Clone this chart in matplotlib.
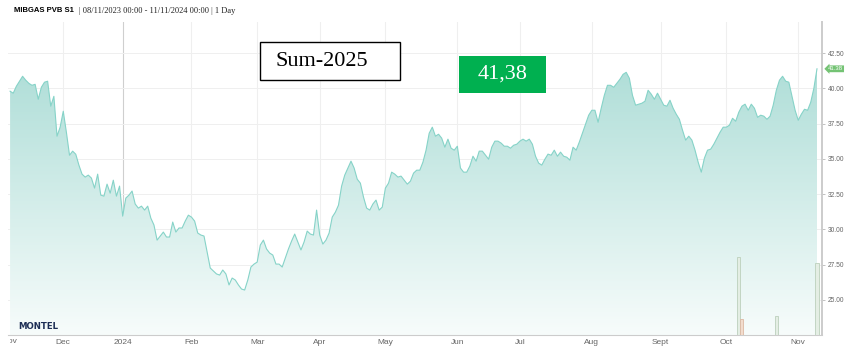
import numpy as np
import pandas as pd
import matplotlib
matplotlib.use('Agg')
import matplotlib.pyplot as plt
import matplotlib.transforms as mtransforms
from matplotlib.colors import LinearSegmentedColormap
from matplotlib.patches import Rectangle

# trading days (weekends and exchange holidays skipped, as on the source chart)
holidays = ['2023-12-25', '2023-12-26', '2024-01-01', '2024-03-29', '2024-04-01']
start_date = '2023-11-08'
end_date = '2024-11-11'

# daily settlement prices, EUR/MWh
prices = [
    # Nov 2023
    39.79, 39.65, 40.14, 40.50, 40.85, 40.57, 40.35, 40.21, 40.28, 39.22,
    40.07, 40.43, 40.50, 38.73, 39.43, 36.60, 37.24,
    # Dec
    38.37, 36.88, 35.25, 35.54, 35.32, 34.55, 33.91, 33.70, 33.84, 33.63,
    32.92, 33.91, 32.42, 32.35, 33.20, 32.56, 33.48, 32.35, 33.06,
    # Jan 2024
    30.93, 32.21, 32.42, 32.71, 31.79, 31.50, 31.64, 31.36, 31.64, 30.79,
    30.30, 29.23, 29.52, 29.80, 29.45, 29.45, 30.51, 29.80, 30.09, 30.09,
    30.58, 31.00,
    # Feb
    30.86, 30.58, 29.73, 29.59, 29.52, 28.39, 27.25, 27.04, 26.83, 26.75,
    27.11, 26.83, 26.05, 26.54, 26.40, 26.05, 25.76, 25.69, 26.40, 27.32,
    27.53,
    # Mar
    27.67, 28.88, 29.23, 28.60, 28.31, 28.17, 27.53, 27.53, 27.32, 27.96,
    28.60, 29.16, 29.66, 29.10, 28.53, 29.10, 29.87, 29.66, 29.59, 31.36,
    # Apr
    29.59, 28.95, 29.23, 29.73, 30.86, 31.21, 31.71, 33.06, 33.84, 34.34,
    34.83, 34.34, 33.55, 33.27, 32.28, 31.50, 31.36, 31.79, 32.07, 31.36,
    31.57,
    # May
    32.92, 33.27, 34.05, 33.91, 33.70, 33.77, 33.48, 33.20, 33.41, 33.98,
    34.19, 34.19, 34.76, 35.61, 36.81, 37.24, 36.60, 36.74, 36.46, 35.82,
    36.39, 35.75, 35.61,
    # Jun
    35.89, 34.34, 34.05, 34.05, 34.48, 35.18, 34.83, 35.54, 35.54, 35.25,
    34.97, 35.82, 36.25, 36.25, 36.11, 35.89, 35.89, 35.75, 35.96, 36.03,
    # Jul
    36.25, 36.39, 36.25, 36.39, 36.03, 35.18, 34.69, 34.55, 34.97, 35.33,
    35.25, 35.61, 35.18, 35.47, 35.18, 35.11, 34.90, 35.82, 35.61, 36.18,
    36.81, 37.45, 38.09,
    # Aug
    38.44, 38.44, 37.59, 38.58, 39.50, 40.21, 40.21, 40.07, 40.35, 40.64,
    40.99, 41.13, 40.71, 39.50, 38.80, 38.87, 38.94, 39.08, 39.86, 39.58,
    39.22, 39.65,
    # Sept
    39.22, 38.80, 38.73, 39.15, 38.58, 38.16, 37.80, 37.03, 36.32, 36.60,
    36.32, 35.61, 34.76, 34.05, 35.04, 35.61, 35.68, 36.03, 36.46, 36.88,
    37.24,
    # Oct
    37.24, 37.38, 37.87, 37.66, 38.30, 38.73, 38.87, 38.44, 38.87, 38.58,
    37.94, 38.09, 38.02, 37.80, 38.02, 38.80, 39.86, 40.57, 40.85, 40.50,
    40.43, 39.43, 38.44,
    # Nov 2024
    37.73, 38.16, 38.51, 38.44, 39.01, 40.00, 41.38,
]

# traded volume bars at the foot of the chart
vol_dates = ['2024-10-07', '2024-10-23', '2024-11-11']
vol_values = [50, 12, 46]
vol2_dates = ['2024-10-08']
vol2_values = [10]

month_starts = pd.date_range('2023-12-01', '2024-11-01', freq='MS')
month_labels = ['Dec', '2024', 'Feb', 'Mar', 'Apr', 'May', 'Jun', 'Jul',
                'Aug', 'Sept', 'Oct', 'Nov']
price_ticks = [25.0, 27.5, 30.0, 32.5, 35.0, 37.5, 40.0, 42.5]

title_bold = 'MIBGAS PVB S1'
title_rest = '| 08/11/2023 00:00 - 11/11/2024 00:00 | 1 Day'
contract = 'Sum-2025'
last_label = '41,38'

dates = pd.bdate_range(start_date, end_date, freq='C', holidays=holidays)
n = min(len(dates), len(prices))
dates = dates[:n]
y = np.array(prices[:n])
x = np.arange(n)

W, H = 846, 356
fig = plt.figure(figsize=(W / 100, H / 100), dpi=100)
fig.patch.set_facecolor('white')
ax = fig.add_axes([8 / W, 1 - 335 / H, 814 / W, 313 / H])

# volume axis first (twinx resets the price axis ticks to the left)
ax2 = ax.twinx()

ymin, ymax = 22.5, 44.7
xmin, xmax = -0.67, n + 0.6

# gradient area under the line
cmap = LinearSegmentedColormap.from_list('fade', ['#f7fcfb', '#a3d9d2'])
grad = np.linspace(0, 1, 256).reshape(-1, 1)
poly = ax.fill_between(x, y, ymin, color='none', lw=0)
im = ax.imshow(grad, extent=[xmin, xmax, ymin, ymax], origin='lower',
               aspect='auto', cmap=cmap, zorder=1)
im.set_clip_path(poly.get_paths()[0], transform=ax.transData)
ax.plot(x, y, color='#86d3c8', lw=0.8, zorder=3)

# month grid
tick_pos = [dates.searchsorted(m) for m in month_starts]
for p, lab in zip(tick_pos, month_labels):
    c = '#cfcfcf' if lab == '2024' else '#efefef'
    ax.axvline(p, color=c, lw=0.8, zorder=0.5)
ax.set_xticks(tick_pos)
ax.set_xticklabels(month_labels, family='Liberation Sans')
ax.tick_params(axis='x', length=0, pad=3, labelsize=6, labelcolor='#666666')

# the first month label sits on the left edge and is partly hidden there
nov = fig.text(10 / W, 1 - 341.5 / H, 'Nov', ha='center', va='center', fontsize=6,
               color='#666666', family='Liberation Sans')
nov.set_clip_box(mtransforms.TransformedBbox(
    mtransforms.Bbox.from_extents(9.5 / W, 0, 1, 1), fig.transFigure))
nov.set_clip_on(True)

for v in price_ticks:
    ax.axhline(v, color='#efefef', lw=0.7, zorder=0.5)
ax.yaxis.tick_right()
ax.set_yticks(price_ticks)
ax.set_yticklabels([f'{v:.2f}' for v in price_ticks], family='Liberation Sans')
ax.tick_params(axis='y', left=False, right=True, labelleft=False, labelright=True,
               length=2.5, width=0.5, color='#aaaaaa', pad=1.5,
               labelsize=4.8, labelcolor='#666666')

ax.set_xlim(xmin, xmax)
ax.set_ylim(ymin, ymax)
for s in ['left', 'top']:
    ax.spines[s].set_visible(False)
ax.spines['bottom'].set_color('#cccccc')
ax.spines['right'].set_color('#cccccc')
ax.spines['right'].set_linewidth(1.4)

# volume
ax2.set_ylim(0, 200)
ax2.set_yticks([])
for s in ax2.spines.values():
    s.set_visible(False)
ax2.bar([dates.get_loc(pd.Timestamp(d)) for d in vol_dates], vol_values, width=1.0,
        color='#e4eee4', edgecolor='#bcd0bc', lw=0.6, zorder=4)
ax2.bar([dates.get_loc(pd.Timestamp(d)) for d in vol2_dates], vol2_values, width=1.0,
        color='#f2dccd', edgecolor='#dcb8a3', lw=0.6, zorder=4)
ax2.set_xlim(xmin, xmax)

# last price marker on the right axis
tr = mtransforms.blended_transform_factory(ax.transAxes, ax.transData)
ax.text(1.0 + 6 / 814, y[-1], f'{y[-1]:.2f}', transform=tr, ha='left', va='center',
        fontsize=4.3, color='white', clip_on=False, zorder=10, family='Liberation Sans',
        bbox=dict(boxstyle='larrow,pad=0.15', fc='#74c374', ec='none'))

# header
fig.text(14 / W, 1 - 11 / H, title_bold, fontsize=5.5, fontweight='bold',
         family='Liberation Sans', va='center', ha='left')
fig.text(79 / W, 1 - 11 / H, title_rest, fontsize=6, family='Liberation Serif',
         va='center', ha='left', color='#222222')

# overlay boxes
fig.add_artist(Rectangle((260 / W, 1 - 80 / H), 140 / W, 38 / H, transform=fig.transFigure,
                         facecolor='white', edgecolor='black', lw=1, zorder=20))
fig.text(275 / W, 1 - 62 / H, contract, fontsize=16, family='Liberation Serif',
         va='center', ha='left', zorder=21)
fig.add_artist(Rectangle((459 / W, 1 - 92.7 / H), 87 / W, 36.7 / H, transform=fig.transFigure,
                         facecolor='#00b050', edgecolor='none', zorder=20))
fig.text(502.5 / W, 1 - 74 / H, last_label, fontsize=16, family='Liberation Serif',
         va='center', ha='center', color='white', zorder=21)

fig.text(18 / W, 1 - 326.5 / H, 'MONTEL', fontsize=6.2, fontweight='bold',
         family='DejaVu Sans', color='#1d2e55', va='center', ha='left')

fig.savefig('out.png', dpi=100, facecolor='white')
